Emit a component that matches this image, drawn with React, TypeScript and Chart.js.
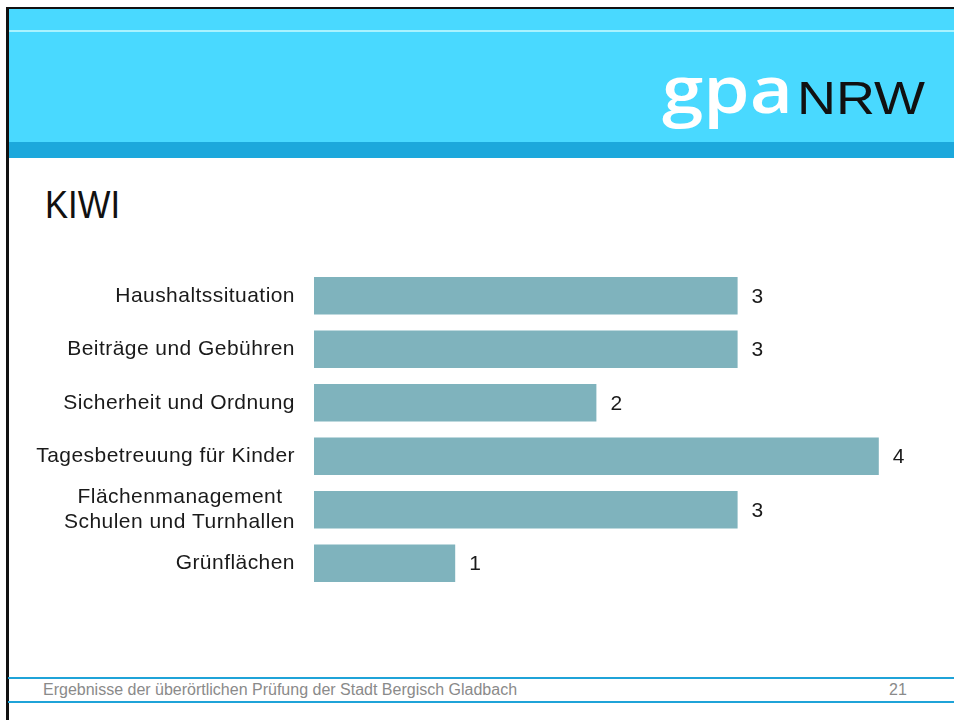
import React, { useEffect, useLayoutEffect, useRef } from "react";
import { Chart, registerables } from "chart.js";

Chart.register(...registerables);

const categories: (string | string[])[] = [
  "Haushaltssituation",
  "Beiträge und Gebühren",
  "Sicherheit und Ordnung",
  "Tagesbetreuung für Kinder",
  ["Flächenmanagement  ", "Schulen und Turnhallen"],
  "Grünflächen",
];
const values = [3, 3, 2, 4, 3, 1];
const valueLabels = ["3", "3", "2", "4", "3", "1"];
const xMin = 0;
const xMax = 4.5;

const title = "KIWI";
const footerText = "Ergebnisse der überörtlichen Prüfung der Stadt Bergisch Gladbach";
const pageNumber = "21";

const FONT = '"Liberation Sans", Arial, Helvetica, sans-serif';

const letterSpacingPlugin = {
  id: "letterSpacingPlugin",
  beforeDraw(chart: any) {
    try {
      (chart.ctx as any).letterSpacing = "0.45px";
    } catch (e) {}
  },
  afterDraw(chart: any) {
    try {
      (chart.ctx as any).letterSpacing = "0px";
    } catch (e) {}
  },
};

const valueLabelPlugin = {
  id: "valueLabelPlugin",
  afterDatasetsDraw(chart: any) {
    const ctx = chart.ctx;
    const meta = chart.getDatasetMeta(0);
    ctx.save();
    ctx.font = `21px ${FONT}`;
    ctx.fillStyle = "#1a1a1a";
    ctx.textAlign = "left";
    ctx.textBaseline = "middle";
    meta.data.forEach((bar: any, i: number) => {
      ctx.fillText(valueLabels[i], bar.x + 14, bar.y + 1);
    });
    ctx.restore();
  },
};

function FitText(props: { text: string; width: number; style: React.CSSProperties }) {
  const ref = useRef<HTMLSpanElement | null>(null);
  useLayoutEffect(() => {
    const el = ref.current;
    if (!el) return;
    el.style.transform = "none";
    const w = el.getBoundingClientRect().width;
    if (w > 0) el.style.transform = `scaleX(${props.width / w})`;
  }, [props.text, props.width]);
  return (
    <span
      ref={ref}
      style={{
        position: "absolute",
        whiteSpace: "nowrap",
        display: "inline-block",
        transformOrigin: "left top",
        ...props.style,
      }}
    >
      {props.text}
    </span>
  );
}

function BarChart() {
  const ref = useRef<HTMLCanvasElement | null>(null);
  useEffect(() => {
    if (!ref.current) return;
    const chart = new Chart(ref.current, {
      type: "bar",
      data: {
        labels: categories as any,
        datasets: [
          {
            data: values,
            backgroundColor: "#7FB3BD",
            borderWidth: 0,
            categoryPercentage: 1,
            barPercentage: 0.7,
          },
        ],
      },
      options: {
        indexAxis: "y",
        animation: false,
        responsive: false,
        maintainAspectRatio: false,
        devicePixelRatio: 1,
        layout: { padding: { top: 40, bottom: 40, left: 0, right: 4.6 } },
        plugins: {
          legend: { display: false },
          tooltip: { enabled: false },
          title: { display: false },
        },
        scales: {
          x: {
            display: false,
            min: xMin,
            max: xMax,
          },
          y: {
            grid: { display: false, drawTicks: false },
            border: { display: false },
            ticks: {
              autoSkip: false,
              padding: 19,
              color: "#1a1a1a",
              font: { family: FONT, size: 21, lineHeight: 1.22 },
            },
            afterFit(scale: any) {
              scale.width = 314;
            },
          },
        },
      },
      plugins: [letterSpacingPlugin, valueLabelPlugin],
    });
    return () => chart.destroy();
  }, []);
  return (
    <canvas
      ref={ref}
      width={954}
      height={401}
      style={{ position: "absolute", left: 0, top: 229, width: 954, height: 401 }}
    />
  );
}

export default function App() {
  const abs = (o: React.CSSProperties): React.CSSProperties => ({
    position: "absolute",
    whiteSpace: "nowrap",
    ...o,
  });
  return (
    <div
      style={{
        position: "absolute",
        left: 0,
        top: 0,
        width: 954,
        height: 720,
        overflow: "hidden",
        background: "#ffffff",
        fontFamily: FONT,
      }}
    >
      {/* header band */}
      <div style={abs({ left: 8, top: 9, width: 946, height: 133, background: "#49D9FF" })} />
      <div style={abs({ left: 8, top: 30, width: 946, height: 2, background: "#A8F3FF" })} />
      <div style={abs({ left: 8, top: 142, width: 946, height: 16, background: "#1CA8DC" })} />
      {/* logo */}
      <FitText
        text="gpa"
        width={131}
        style={{
          left: 662,
          top: 56,
          fontFamily: '"Open Sans", "Noto Sans", sans-serif',
          fontWeight: 600,
          fontSize: 65,
          lineHeight: "65px",
          color: "#ffffff",
        }}
      />
      <FitText
        text="NRW"
        width={128}
        style={{
          left: 797,
          top: 75,
          fontFamily: FONT,
          fontSize: 46,
          lineHeight: "46px",
          color: "#111111",
        }}
      />
      {/* black frame */}
      <div style={abs({ left: 6, top: 7, width: 948, height: 2, background: "#111111" })} />
      <div style={abs({ left: 6, top: 7, width: 2.5, height: 713, background: "#111111" })} />
      {/* title */}
      <FitText
        text={title}
        width={75}
        style={{ left: 45, top: 186, fontFamily: FONT, fontSize: 38, lineHeight: "38px", color: "#111111" }}
      />
      <BarChart />
      {/* footer */}
      <div style={abs({ left: 8, top: 677, width: 946, height: 1.5, background: "#1FA3D8" })} />
      <div style={abs({ left: 8, top: 701, width: 946, height: 1.5, background: "#1FA3D8" })} />
      <div style={abs({ left: 43, top: 682, fontSize: 16, lineHeight: "16px", color: "#8a8a8a" })}>
        {footerText}
      </div>
      <div style={abs({ left: 889, top: 682, fontSize: 16, lineHeight: "16px", color: "#8a8a8a" })}>
        {pageNumber}
      </div>
    </div>
  );
}
